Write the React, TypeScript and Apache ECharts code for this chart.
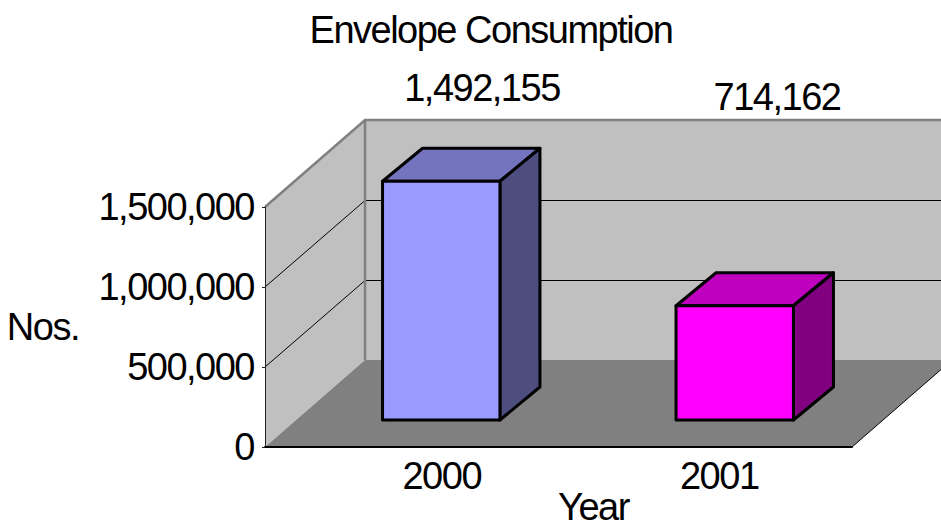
import React, { useEffect, useRef } from "react";
import * as echarts from "echarts";

const titleText = "Envelope Consumption";
const categories = ["2000", "2001"];
const nosValues = [1492155, 714162];
const yTicks = [0, 500000, 1000000, 1500000];
const yAxisName = "Nos.";
const xAxisName = "Year";

const FONT = "'Liberation Sans', Arial, sans-serif";
const FS = 38;
const WALL_DX = 100;
const WALL_DY = -87;
const BAR_DX = 40;
const BAR_DY = -33;
const BAR_SHIFT_X = 29.5;
const BAR_SHIFT_Y = -27;
const faces = [
  { front: "#9999FF", top: "#7373BF", side: "#4D4D80" },
  { front: "#FF00FF", top: "#BF00BF", side: "#800080" },
];
const fmt = (v: number) => v.toLocaleString("en-US");

function renderWalls(params: any, api: any) {
  const cs = params.coordSys;
  const l = cs.x, r = cs.x + cs.width, t = cs.y, b = cs.y + cs.height;
  const children: any[] = [
    { type: "polygon", shape: { points: [[l + WALL_DX, t + WALL_DY], [r + WALL_DX, t + WALL_DY], [r + WALL_DX, b + WALL_DY], [l + WALL_DX, b + WALL_DY]] }, style: { fill: "#C0C0C0" } },
    { type: "polygon", shape: { points: [[l, t], [l + WALL_DX, t + WALL_DY], [l + WALL_DX, b + WALL_DY], [l, b]] }, style: { fill: "#C0C0C0" } },
    { type: "polygon", shape: { points: [[l, b], [l + WALL_DX, b + WALL_DY], [r + WALL_DX, b + WALL_DY], [r, b]] }, style: { fill: "#808080" } },
  ];
  yTicks.slice(1, -1).forEach((tick) => {
    const y = api.coord([0, tick])[1];
    const back = Math.round(y + WALL_DY) + 0.5;
    children.push({
      type: "polyline",
      shape: { points: [[l, y], [l + WALL_DX, back], [r + WALL_DX, back]] },
      style: { fill: "none", stroke: "#000", lineWidth: 1 },
    });
  });
  children.push({
    type: "polyline",
    shape: { points: [[l, t], [l + WALL_DX, t + WALL_DY], [r + WALL_DX, t + WALL_DY]] },
    style: { fill: "none", stroke: "#808080", lineWidth: 2.5 },
  });
  children.push({
    type: "line",
    shape: { x1: l + WALL_DX, y1: t + WALL_DY, x2: l + WALL_DX, y2: b + WALL_DY },
    style: { stroke: "#808080", lineWidth: 2.5 },
  });
  children.push({
    type: "line",
    shape: { x1: r, y1: b, x2: r + WALL_DX, y2: b + WALL_DY },
    style: { stroke: "#000", lineWidth: 1 },
  });
  return { type: "group", children };
}

function renderBar(params: any, api: any) {
  const i = api.value(0);
  const [cx, top0] = api.coord([i, api.value(1)]);
  const base0 = api.coord([i, 0])[1];
  const w = api.size([1, 0])[0] * 0.4;
  const l = cx - w / 2 + BAR_SHIFT_X;
  const r = cx + w / 2 + BAR_SHIFT_X;
  const top = top0 + BAR_SHIFT_Y;
  const base = base0 + BAR_SHIFT_Y;
  const c = faces[i];
  const stroke = { stroke: "#000", lineWidth: 3, lineJoin: "round" };
  return {
    type: "group",
    children: [
      { type: "polygon", shape: { points: [[l, top], [r, top], [r + BAR_DX, top + BAR_DY], [l + BAR_DX, top + BAR_DY]] }, style: { fill: c.top, ...stroke } },
      { type: "polygon", shape: { points: [[r, top], [r + BAR_DX, top + BAR_DY], [r + BAR_DX, base + BAR_DY], [r, base]] }, style: { fill: c.side, ...stroke } },
      { type: "polygon", shape: { points: [[l, top], [r, top], [r, base], [l, base]] }, style: { fill: c.front, ...stroke } },
    ],
  };
}

export default function App() {
  const ref = useRef<HTMLDivElement>(null);
  useEffect(() => {
    const chart = echarts.init(ref.current!, null, { renderer: "svg" });
    chart.setOption({
      animation: false,
      backgroundColor: "#fff",
      textStyle: { fontFamily: FONT },
      title: {
        text: titleText,
        left: 486,
        top: 6,
        textAlign: "center",
        textStyle: { fontFamily: FONT, fontSize: FS, fontWeight: "normal", color: "#000" },
      },
      grid: { left: 265, right: 89, top: 207, bottom: 76, outerBoundsMode: "none" },
      xAxis: {
        type: "category",
        data: categories,
        z: 5,
        name: xAxisName,
        nameLocation: "middle",
        nameGap: 45,
        nameMoveOverlap: false,
        nameTextStyle: { fontFamily: FONT, fontSize: FS, lineHeight: 30, color: "#000", padding: [0, 0, 0, 70] },
        axisLine: { show: true, lineStyle: { color: "#000", width: 2 } },
        axisTick: { show: false },
        axisLabel: {
          margin: 10,
          formatter: (v: string, i: number) => `{c${i}|${v}}`,
          rich: {
            c0: { fontFamily: FONT, fontSize: FS, color: "#000", padding: [0, 0, 0, 60] },
            c1: { fontFamily: FONT, fontSize: FS, color: "#000", padding: [0, 0, 0, 28] },
          },
        },
      },
      yAxis: {
        type: "value",
        min: 0,
        max: 1500000,
        interval: 500000,
        z: 5,
        name: yAxisName,
        nameLocation: "middle",
        nameRotate: 0,
        nameGap: 186,
        nameMoveOverlap: false,
        nameTextStyle: { fontFamily: FONT, fontSize: FS, color: "#000", align: "right", padding: [0, 0, 6, 0] },
        axisLine: { show: true, lineStyle: { color: "#222", width: 1 } },
        axisTick: { show: true, length: 3, lineStyle: { color: "#222", width: 1 } },
        splitLine: { show: false },
        axisLabel: { margin: 11, fontFamily: FONT, fontSize: FS, color: "#000", formatter: (v: number) => fmt(v) },
      },
      graphic: [
        { type: "text", x: 482, y: 88, z: 10, style: { text: fmt(nosValues[0]), fontFamily: FONT, fontSize: FS, fill: "#000", align: "center", verticalAlign: "middle" } },
        { type: "text", x: 777, y: 97, z: 10, style: { text: fmt(nosValues[1]), fontFamily: FONT, fontSize: FS, fill: "#000", align: "center", verticalAlign: "middle" } },
      ],
      series: [
        { type: "custom", name: "walls", z: 1, silent: true, renderItem: renderWalls, data: [[0, 0]], encode: { x: 0, y: 1 } },
        { type: "custom", name: "Nos.", z: 2, renderItem: renderBar, data: categories.map((_, i) => [i, nosValues[i]]), encode: { x: 0, y: 1 } },
      ],
    });
    return () => chart.dispose();
  }, []);
  return (
    <div
      ref={ref}
      style={{ position: "absolute", left: 0, top: 0, width: 941, height: 523, letterSpacing: "-1.5px" }}
    />
  );
}
